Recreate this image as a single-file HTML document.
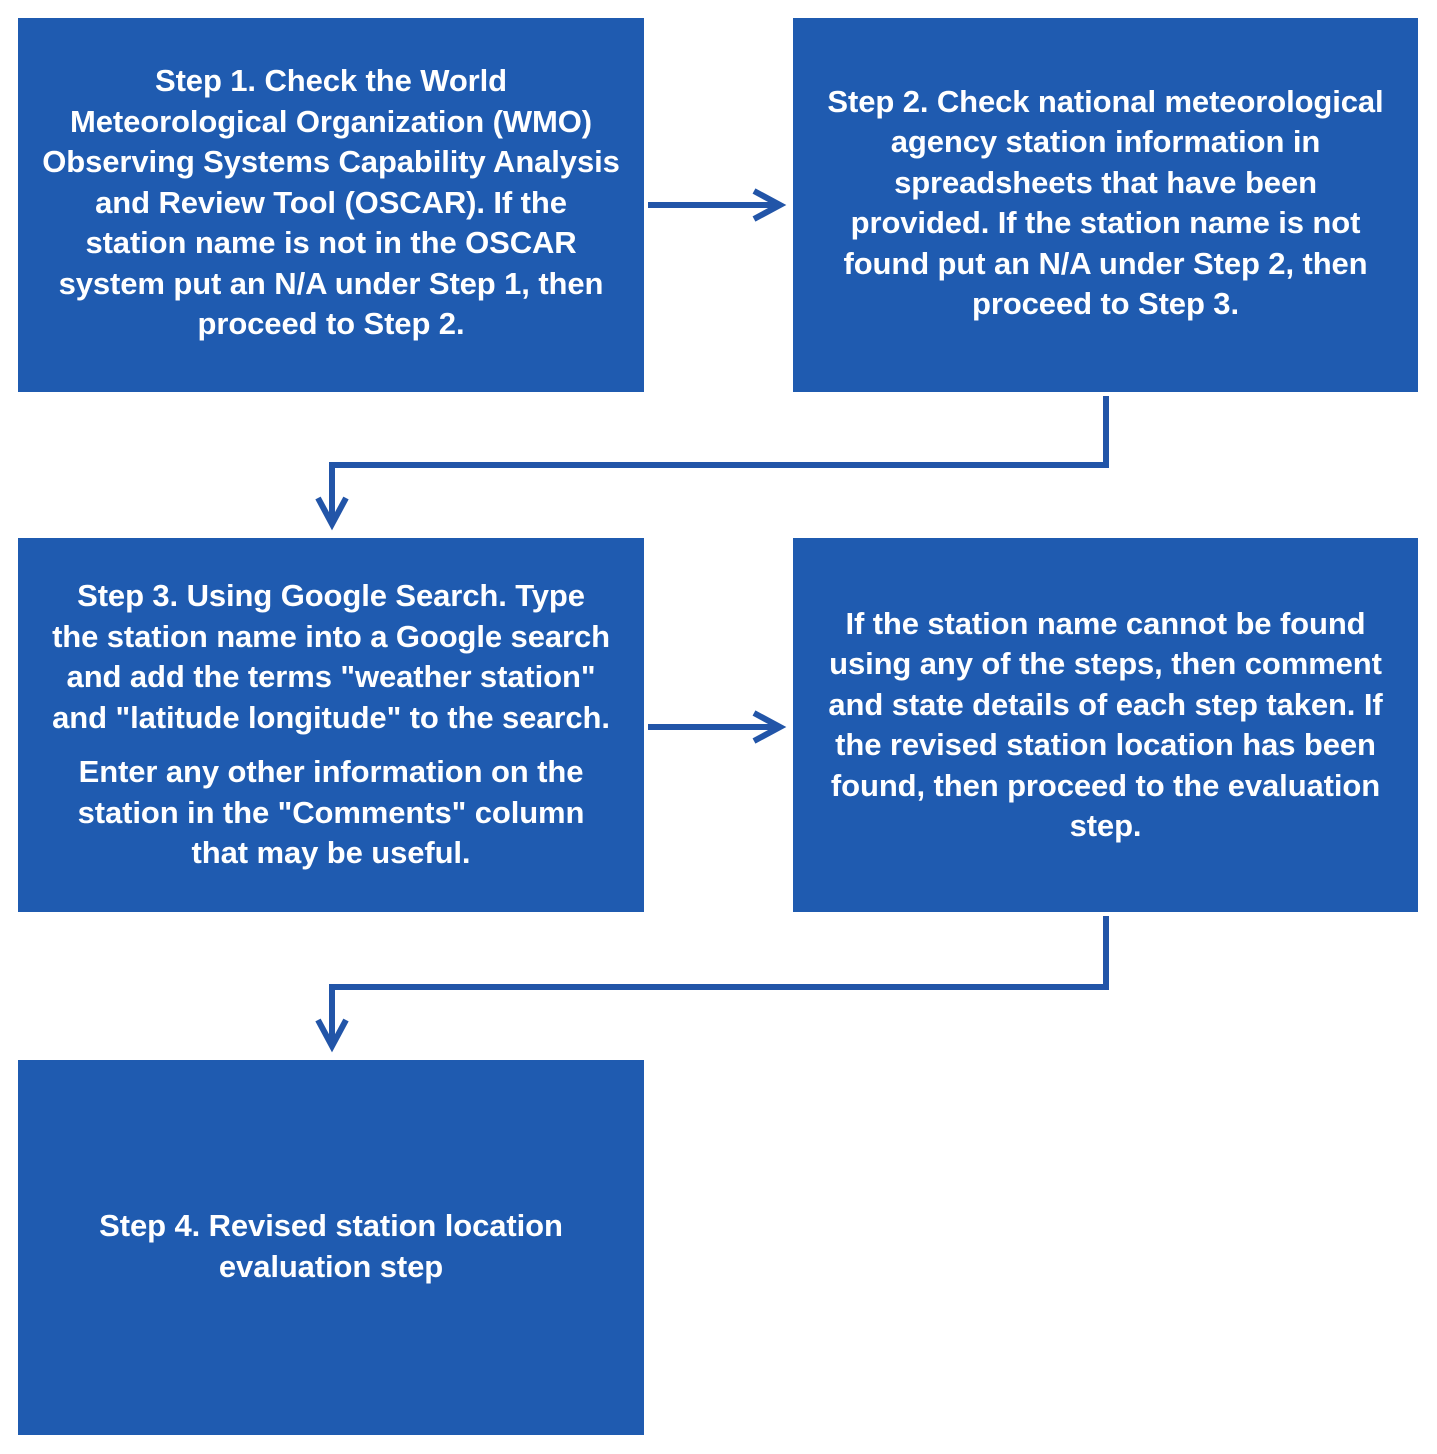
<!DOCTYPE html>
<html><head><style>
body{margin:0;width:1437px;height:1454px;background:#fff;position:relative;overflow:hidden}
.b{position:absolute;background:#1f5bb0;color:#fff;font-family:"Liberation Sans",sans-serif;font-weight:bold;font-size:31px;line-height:40.5px;text-align:center;display:flex;flex-direction:column;justify-content:center;letter-spacing:-0.1px;white-space:nowrap}
.b p{margin:0}
svg{position:absolute;left:0;top:0}
</style></head><body>
<div class="b" style="left:18px;top:18px;width:626px;height:374px;padding-bottom:4px;box-sizing:border-box"><p>Step 1. Check the World<br>Meteorological Organization (WMO)<br>Observing Systems Capability Analysis<br>and Review Tool (OSCAR). If the<br>station name is not in the OSCAR<br>system put an N/A under Step 1, then<br>proceed to Step 2.</p></div>
<div class="b" style="left:793px;top:18px;width:625px;height:374px;padding-bottom:4px;box-sizing:border-box"><p>Step 2. Check national meteorological<br>agency station information in<br>spreadsheets that have been<br>provided. If the station name is not<br>found put an N/A under Step 2, then<br>proceed to Step 3.</p></div>
<div class="b" style="left:18px;top:538px;width:626px;height:374px;padding-bottom:0px;box-sizing:border-box"><p>Step 3. Using Google Search. Type<br>the station name into a Google search<br>and add the terms "weather station"<br>and "latitude longitude" to the search.</p><p style="margin-top:14px">Enter any other information on the<br>station in the "Comments" column<br>that may be useful.</p></div>
<div class="b" style="left:793px;top:538px;width:625px;height:374px;padding-bottom:0px;box-sizing:border-box"><p>If the station name cannot be found<br>using any of the steps, then comment<br>and state details of each step taken. If<br>the revised station location has been<br>found, then proceed to the evaluation<br>step.</p></div>
<div class="b" style="left:18px;top:1060px;width:626px;height:375px;padding-bottom:2px;box-sizing:border-box"><p>Step 4. Revised station location<br>evaluation step</p></div>
<svg width="1437" height="1454"><g fill="none" stroke="#2255a8" stroke-width="6">
<path d="M648 205H780M754 191L780 205L754 219"/>
<path d="M648 727H780M754 713L780 727L754 741"/>
<path d="M1106 396V465H332V524M318 498L332 524L346 498"/>
<path d="M1106 916V987H332V1046M318 1020L332 1046L346 1020"/>
</g></svg>
</body></html>
